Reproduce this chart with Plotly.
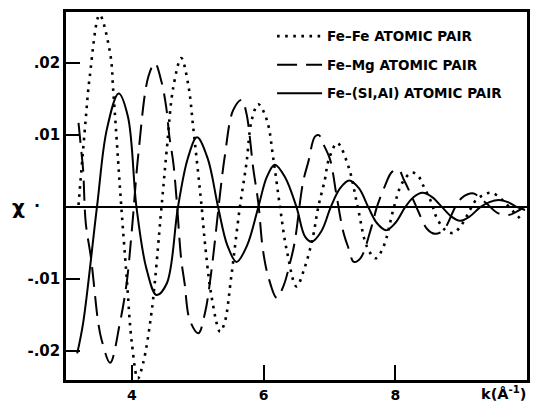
import plotly.graph_objects as go

# Fe-Fe atomic pair (dotted)
k_fefe = [3.19, 3.29, 3.36, 3.51, 3.67, 3.72, 3.79, 3.84, 3.92, 4.00, 4.09, 4.17, 4.30, 4.45,
          4.53, 4.63, 4.75, 4.86, 4.93, 5.06, 5.11, 5.21, 5.34, 5.41, 5.51, 5.64, 5.74, 5.82,
          5.92, 6.05, 6.15, 6.25, 6.35, 6.50, 6.62, 6.75, 6.83, 6.93, 6.99, 7.12, 7.29, 7.43,
          7.57, 7.70, 7.82, 7.98, 8.10, 8.25, 8.35, 8.43, 8.55, 8.62, 8.76, 8.88, 8.98, 9.10,
          9.21, 9.34, 9.46, 9.60, 9.79, 9.92]
chi_fefe = [0.0003, 0.0112, 0.0181, 0.0267, 0.0214, 0.0158, 0.0066, 0.0, -0.0096, -0.0189,
            -0.0238, -0.0217, -0.0145, 0.0, 0.008, 0.0167, 0.0207, 0.0168, 0.0112, 0.0, -0.005,
            -0.0124, -0.0173, -0.016, -0.0096, 0.0, 0.0061, 0.0121, 0.0143, 0.0121, 0.0066, 0.0,
            -0.0059, -0.011, -0.0085, -0.0041, 0.0, 0.0038, 0.0066, 0.0089, 0.0056, 0.0,
            -0.0055, -0.0071, -0.0055, 0.0, 0.0033, 0.0048, 0.0043, 0.0029, 0.0006, -0.0013,
            -0.0032, -0.0036, -0.0028, -0.0010, 0.0008, 0.0017, 0.0020, 0.0012, -0.0006, -0.0018]

# Fe-Mg atomic pair (dashed)
k_femg = [3.19, 3.23, 3.26, 3.30, 3.38, 3.49, 3.54, 3.67, 3.82, 3.92, 4.00, 4.10, 4.25, 4.35,
          4.45, 4.52, 4.57, 4.63, 4.68, 4.75, 4.80, 4.88, 5.01, 5.11, 5.21, 5.34, 5.41, 5.54,
          5.67, 5.74, 5.79, 5.84, 5.92, 5.99, 6.07, 6.20, 6.30, 6.40, 6.47, 6.60, 6.68, 6.78,
          6.84, 6.90, 7.01, 7.11, 7.21, 7.29, 7.37, 7.47, 7.64, 7.72, 7.84, 7.95, 8.05, 8.13,
          8.25, 8.35, 8.48, 8.60, 8.73, 8.91, 9.00, 9.10, 9.19, 9.30, 9.40, 9.55, 9.72, 9.85,
          9.95]
chi_femg = [0.0117, 0.008, 0.0052, -0.0022, -0.0071, -0.0161, -0.0184, -0.0216, -0.016,
            -0.0106, -0.0032, 0.0075, 0.0181, 0.0200, 0.0174, 0.014, 0.0098, 0.0061, 0.001,
            -0.0073, -0.0105, -0.0157, -0.0175, -0.0147, -0.0087, 0.0019, 0.007, 0.0135,
            0.0149, 0.013, 0.0098, 0.0056, 0.0006, -0.0059, -0.0096, -0.0126, -0.011, -0.0078,
            -0.0050, 0.0035, 0.0063, 0.0098, 0.0100, 0.0089, 0.0066, 0.0015, -0.0034, -0.0057,
            -0.0076, -0.0071, -0.0027, 0.0, 0.0029, 0.0049, 0.0052, 0.0038, 0.0015, -0.0006,
            -0.0030, -0.0037, -0.0032, 0.0, 0.0012, 0.0018, 0.0019, 0.0012, 0.0004, -0.0008,
            -0.0011, -0.0006, 0.0]

# Fe-(Si,Al) atomic pair (solid)
k_fesi = [3.17, 3.26, 3.47, 3.62, 3.80, 3.94, 4.07, 4.22, 4.375, 4.53, 4.70, 4.85, 4.99,
          5.15, 5.31, 5.45, 5.59, 5.75, 5.92, 6.05, 6.17, 6.33, 6.50, 6.63, 6.73, 6.88, 7.02,
          7.16, 7.30, 7.45, 7.59, 7.72, 7.86, 8.00, 8.15, 8.28, 8.41, 8.56, 8.71, 8.85, 8.98,
          9.13, 9.29, 9.43, 9.57, 9.71, 9.85, 9.97]
chi_fesi = [-0.0203, -0.0161, 0.0, 0.0108, 0.0158, 0.0126, 0.0, -0.0085, -0.0122, -0.0106,
            0.0, 0.0068, 0.0097, 0.0068, 0.0, -0.0053, -0.0076, -0.0053, 0.0, 0.0042, 0.0059,
            0.0041, 0.0, -0.0041, -0.0048, -0.0033, 0.0, 0.0026, 0.0037, 0.0026, 0.0, -0.0022,
            -0.0032, -0.0022, 0.0, 0.0014, 0.0020, 0.0014, 0.0, -0.0013, -0.0019, -0.0013, 0.0,
            0.0007, 0.0010, 0.0007, 0.0, -0.0004]

y_tickvals = [0.02, 0.01, -0.01, -0.02]
y_ticktext = [".02", ".01", "-.01", "-.02"]
x_tickvals = [4, 6, 8]
x_ticktext = ["4", "6", "8"]

names = ["Fe\u2013Fe ATOMIC PAIR", "Fe\u2013Mg ATOMIC PAIR", "Fe\u2013(SI,AI) ATOMIC PAIR"]

FONT = "DejaVu Sans, sans-serif"

fig = go.Figure()
fig.add_trace(go.Scatter(x=k_fefe, y=chi_fefe, mode="lines", name=names[0], legendgroup="a",
                         line=dict(color="black", width=2.6, dash="2.6px,5.5px", shape="spline")))
fig.add_trace(go.Scatter(x=k_femg, y=chi_femg, mode="lines", name=names[1], legendgroup="b",
                         line=dict(color="black", width=2, dash="20px,9px", shape="spline")))
fig.add_trace(go.Scatter(x=k_fesi, y=chi_fesi, mode="lines", name=names[2], legendgroup="c",
                         line=dict(color="black", width=2, shape="spline")))

fig.update_layout(
    width=533, height=403,
    margin=dict(l=66, r=6, t=12, b=23),
    paper_bgcolor="white", plot_bgcolor="white",
    font=dict(family=FONT, size=14, color="black"),
    showlegend=True,
    legend=dict(x=0.447, y=0.976, xanchor="left", yanchor="top", bgcolor="rgba(0,0,0,0)",
                itemwidth=45, tracegroupgap=8,
                font=dict(family=FONT, size=13.5, color="black", weight="bold")),
    xaxis=dict(range=[3.0, 10.0], tickvals=x_tickvals, ticktext=x_ticktext, ticks="inside",
               ticklen=15, tickwidth=2, tickcolor="black", showline=True, linewidth=2.5,
               linecolor="black", mirror=True, showgrid=False, zeroline=False,
               automargin=False, tickfont=dict(family=FONT, size=14, weight="bold")),
    yaxis=dict(range=[-0.024, 0.0271], tickvals=y_tickvals, ticktext=y_ticktext, ticks="inside",
               ticklen=14, tickwidth=2, tickcolor="black", showline=True, linewidth=2.5,
               linecolor="black", mirror=True, showgrid=False, zeroline=True, zerolinewidth=2,
               zerolinecolor="black", automargin=False,
               tickfont=dict(family=FONT, size=15, weight="bold")),
    annotations=[
        dict(text="\u03c7", xref="paper", yref="y", x=-0.104, y=0.0, showarrow=False,
             font=dict(family=FONT, size=20, weight="bold"), xanchor="center", yanchor="middle"),
        dict(text="\u00b7", xref="paper", yref="y", x=-0.062, y=0.0003, showarrow=False,
             font=dict(family=FONT, size=16, weight="bold"), xanchor="center", yanchor="middle"),
        dict(text="k(\u00c5<sup>-1</sup>)", xref="paper", yref="paper", x=0.950, y=-0.005,
             showarrow=False, font=dict(family=FONT, size=14.5, weight="bold"),
             xanchor="center", yanchor="top"),
    ],
)

fig.write_html("out.html", config={"displayModeBar": False},
               post_script="document.body.style.margin='0';document.body.style.padding='0';")
